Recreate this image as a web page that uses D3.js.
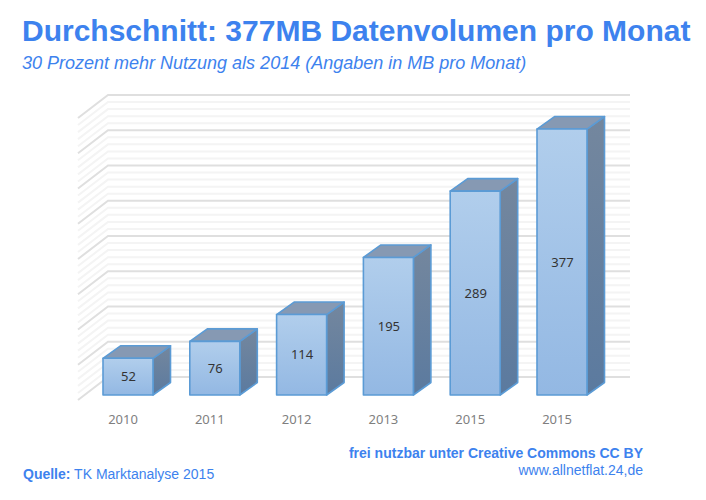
<!DOCTYPE html>
<html>
<head>
<meta charset="utf-8">
<script src="https://cdn.jsdelivr.net/npm/d3@7"></script>
<style>
  html, body { margin: 0; padding: 0; background: #fff; }
  svg { display: block; }
  text { font-family: "Liberation Sans", Arial, sans-serif; }
  .chart-font text, .chart-font { font-family: "Noto Sans", sans-serif; }
</style>
</head>
<body>
<svg id="chart" width="706" height="500"></svg>
<script>
var years = ['2010', '2011', '2012', '2013', '2015', '2015'],
    volumes = [52, 76, 114, 195, 289, 377],
    gridValues = d3.range(0, 401, 10),
    BLUE = '#3d82ee',
    depth = { x: 17.5, y: -12.5 },  // bar depth
    wall = { x: 30, y: -23 }        // floor depth
;

var svg = d3.select('#chart');

// =============================
// Scales
// =============================
var x = d3.scaleBand()
      .domain(d3.range(years.length))
      .range([84.6, 605.4])
      .paddingInner(0.424)
      .paddingOuter(0.212);

// bars stand in front of the back wall, so they get their own baseline
var yBar = d3.scaleLinear().domain([0, 400]).range([395, 112.8]);
var yWall = d3.scaleLinear().domain([0, 400]).range([377, 95]);

// =============================
// Gradients (one per bar, bounding box)
// =============================
var defs = svg.append('defs');

function addGradient(id, top, bottom) {
  var g = defs.append('linearGradient')
    .attr('id', id)
    .attr('x1', 0).attr('x2', 0)
    .attr('y1', 0).attr('y2', 1);
  g.append('stop').attr('offset', 0).attr('stop-color', top);
  g.append('stop').attr('offset', 1).attr('stop-color', bottom);
}
addGradient('front', '#b1ceec', '#93b8e3');
addGradient('side', '#74879e', '#5b7a9f');

// =============================
// Grid
// =============================
var leftBack = 108, rightBack = 630;

svg.append('g').selectAll('path')
  .data(gridValues)
  .enter().append('path')
    .attr('fill', 'none')
    .attr('stroke', function(d) { return d % 50 === 0 ? '#dfdfdf' : '#f4f4f4'; })
    .attr('stroke-width', 2)
    .attr('d', function(d) {
      return 'M' + (leftBack - wall.x) + ',' + (yWall(d) - wall.y) +
             'L' + leftBack + ',' + yWall(d) +
             'H' + rightBack;
    });

// =============================
// Bars
// =============================
var bars = svg.append('g').selectAll('g')
  .data(volumes)
  .enter().append('g')
    .attr('stroke', '#5b9bd5')
    .attr('stroke-width', 1.6)
    .attr('stroke-linejoin', 'round');

bars.append('path')  // side
  .attr('fill', 'url(#side)')
  .attr('d', function(d, i) {
    var r = x(i) + x.bandwidth();
    return 'M' + r + ',' + yBar(d) +
           'l' + depth.x + ',' + depth.y +
           'V' + (yBar(0) + depth.y) +
           'L' + r + ',' + yBar(0) + 'Z';
  });

bars.append('path')  // top
  .attr('fill', '#8699b3')
  .attr('d', function(d, i) {
    return 'M' + x(i) + ',' + yBar(d) +
           'l' + depth.x + ',' + depth.y +
           'h' + x.bandwidth() +
           'l' + (-depth.x) + ',' + (-depth.y) + 'Z';
  });

bars.append('rect')  // front
  .attr('fill', 'url(#front)')
  .attr('x', function(d, i) { return x(i); })
  .attr('y', function(d) { return yBar(d); })
  .attr('width', x.bandwidth())
  .attr('height', function(d) { return yBar(0) - yBar(d); });

// value labels
svg.append('g').attr('class', 'chart-font').selectAll('text')
  .data(volumes)
  .enter().append('text')
    .attr('x', function(d, i) { return x(i) + x.bandwidth() / 2 + 0.5; })
    .attr('y', function(d) { return (yBar(d) + yBar(0)) / 2 + 4.5; })
    .attr('text-anchor', 'middle')
    .attr('font-size', 13)
    .attr('fill', '#333')
    .text(function(d) { return d; });

// category axis
var xAxis = d3.axisBottom(x)
  .tickSize(0)
  .tickFormat(function(d) { return years[d]; });

svg.append('g')
  .attr('class', 'chart-font')
  .attr('transform', 'translate(-5,' + 412 + ')')
  .call(xAxis)
  .call(function(g) { g.select('.domain').remove(); })
  .selectAll('text')
    .attr('font-size', 13)
    .attr('fill', '#7f7f7f')
    .attr('font-family', '"Noto Sans", sans-serif');

// =============================
// Texts
// =============================
svg.append('text')
  .attr('x', 22).attr('y', 41)
  .attr('font-size', 30).attr('font-weight', 'bold').attr('fill', BLUE)
  .text('Durchschnitt: 377MB Datenvolumen pro Monat');

svg.append('text')
  .attr('x', 22).attr('y', 68.5)
  .attr('font-size', 18).attr('font-style', 'italic').attr('fill', BLUE)
  .text('30 Prozent mehr Nutzung als 2014 (Angaben in MB pro Monat)');

svg.append('text')
  .attr('x', 643).attr('y', 458)
  .attr('text-anchor', 'end')
  .attr('font-size', 14).attr('font-weight', 'bold').attr('fill', BLUE)
  .text('frei nutzbar unter Creative Commons CC BY');

svg.append('text')
  .attr('x', 643).attr('y', 475)
  .attr('text-anchor', 'end')
  .attr('font-size', 14).attr('fill', BLUE)
  .text('www.allnetflat.24,de');

var source = svg.append('text')
  .attr('x', 23).attr('y', 479)
  .attr('font-size', 14).attr('fill', BLUE);
source.append('tspan').attr('font-weight', 'bold').text('Quelle:');
source.append('tspan').text(' TK Marktanalyse 2015');
</script>
</body>
</html>
